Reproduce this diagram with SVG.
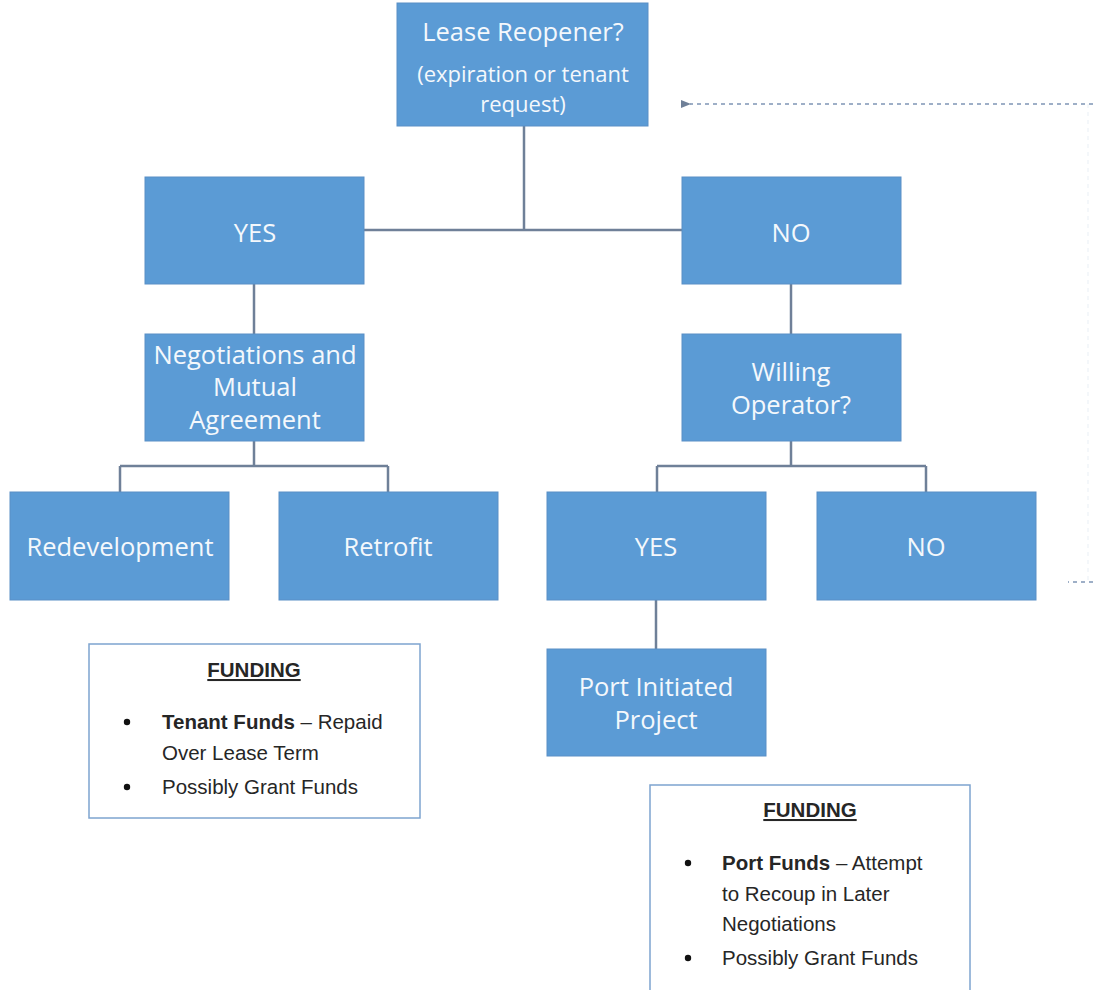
<svg xmlns="http://www.w3.org/2000/svg" width="1093" height="990" viewBox="0 0 1093 990">
  <defs>
    <style>
      .box { fill: #5b9bd5; stroke: #5a8fc6; stroke-width: 1; }
      .lbl { fill: #f4f8fc; font-family: "Open Sans", "Noto Sans", sans-serif; font-size: 25.5px; text-anchor: middle; }
      .sub { font-size: 22px; }
      .link { stroke: #6f8098; stroke-width: 2.5; fill: none; }
      .loop { stroke: #7f95b5; stroke-width: 1.5; fill: none; stroke-dasharray: 4 4; }
      .loop-faint { stroke: #f1f5f9; stroke-width: 1.5; fill: none; stroke-dasharray: 4 4; }
      .note { fill: #ffffff; stroke: #7ea4cf; stroke-width: 1.5; }
      .ntxt { fill: #262626; font-family: "Liberation Sans", "Open Sans", sans-serif; font-size: 20.5px; }
      .head { font-weight: bold; text-decoration: underline; text-anchor: middle; }
      .dot { fill: #111; }
    </style>
    <marker id="arr" viewBox="0 0 10 10" refX="1" refY="5" markerWidth="7" markerHeight="7" orient="auto">
      <path d="M10,1 L0,5 L10,9 z" fill="#6f8098"/>
    </marker>
  </defs>
  <rect width="1093" height="990" fill="#ffffff"/>

  <!-- connectors -->
  <g id="connectors">
    <path class="link" d="M524,126 V230"/>
    <path class="link" d="M364,230 H682"/>
    <path class="link" d="M254,284 V334"/>
    <path class="link" d="M254,441 V466 M120,466 H388 M120,466 V492 M388,466 V492"/>
    <path class="link" d="M791,284 V334"/>
    <path class="link" d="M791,441 V466 M657,466 H926 M657,466 V492 M926,466 V492"/>
    <path class="link" d="M656,600 V649"/>
    <!-- feedback loop from the second NO back to the reopener -->
    <path class="loop-faint" d="M1088,104 V582"/>
    <path class="loop" d="M1093,104 H690" marker-end="url(#arr)"/>
    <path class="loop" d="M1093,582 H1068"/>
  </g>

  <g id="lease-reopener">
    <rect class="box" x="397" y="3" width="251" height="123"/>
    <text class="lbl" x="523" y="41">Lease Reopener?</text>
    <text class="lbl sub" x="523" y="82">(expiration or tenant</text>
    <text class="lbl sub" x="523" y="112">request)</text>
  </g>

  <g id="yes-1">
    <rect class="box" x="145" y="177" width="219" height="107"/>
    <text class="lbl" x="255" y="242">YES</text>
  </g>

  <g id="no-1">
    <rect class="box" x="682" y="177" width="219" height="107"/>
    <text class="lbl" x="791" y="242">NO</text>
  </g>

  <g id="negotiations">
    <rect class="box" x="145" y="334" width="219" height="107"/>
    <text class="lbl" x="255" y="364">Negotiations and</text>
    <text class="lbl" x="255" y="396">Mutual</text>
    <text class="lbl" x="255" y="429">Agreement</text>
  </g>

  <g id="willing-operator">
    <rect class="box" x="682" y="334" width="219" height="107"/>
    <text class="lbl" x="791" y="381">Willing</text>
    <text class="lbl" x="791" y="414">Operator?</text>
  </g>

  <g id="redevelopment">
    <rect class="box" x="10" y="492" width="219" height="108"/>
    <text class="lbl" x="120" y="556">Redevelopment</text>
  </g>

  <g id="retrofit">
    <rect class="box" x="279" y="492" width="219" height="108"/>
    <text class="lbl" x="388" y="556">Retrofit</text>
  </g>

  <g id="yes-2">
    <rect class="box" x="547" y="492" width="219" height="108"/>
    <text class="lbl" x="656" y="556">YES</text>
  </g>

  <g id="no-2">
    <rect class="box" x="817" y="492" width="219" height="108"/>
    <text class="lbl" x="926" y="556">NO</text>
  </g>

  <g id="port-initiated">
    <rect class="box" x="547" y="649" width="219" height="107"/>
    <text class="lbl" x="656" y="696">Port Initiated</text>
    <text class="lbl" x="656" y="729">Project</text>
  </g>

  <g id="funding-tenant">
    <rect class="note" x="89" y="644" width="331" height="174"/>
    <text class="ntxt head" x="254" y="677">FUNDING</text>
    <circle class="dot" cx="127" cy="722" r="3.2"/>
    <text class="ntxt" x="162" y="729"><tspan font-weight="bold">Tenant Funds</tspan> – Repaid</text>
    <text class="ntxt" x="162" y="760">Over Lease Term</text>
    <circle class="dot" cx="127" cy="787" r="3.2"/>
    <text class="ntxt" x="162" y="794">Possibly Grant Funds</text>
  </g>

  <g id="funding-port">
    <rect class="note" x="650" y="785" width="320" height="210"/>
    <text class="ntxt head" x="810" y="817">FUNDING</text>
    <circle class="dot" cx="688" cy="863" r="3.2"/>
    <text class="ntxt" x="722" y="870"><tspan font-weight="bold">Port Funds</tspan> – Attempt</text>
    <text class="ntxt" x="722" y="901">to Recoup in Later</text>
    <text class="ntxt" x="722" y="931">Negotiations</text>
    <circle class="dot" cx="688" cy="958" r="3.2"/>
    <text class="ntxt" x="722" y="965">Possibly Grant Funds</text>
  </g>
</svg>
